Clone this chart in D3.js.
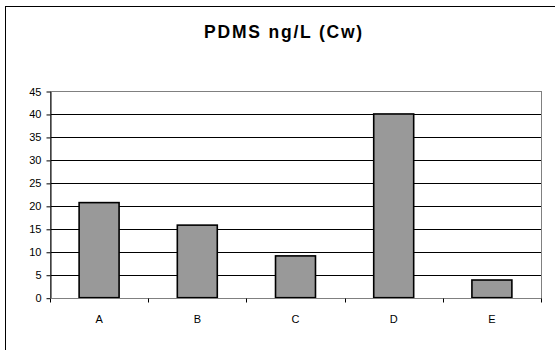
<!DOCTYPE html>
<html>
<head>
<meta charset="utf-8">
<script src="https://cdn.jsdelivr.net/npm/d3@7"></script>
<style>
  html, body { margin: 0; padding: 0; background: #fff; }
  svg { display: block; font-family: Arial, "Liberation Sans", sans-serif; }
</style>
</head>
<body>
<svg id="chart" width="555" height="350"></svg>
<script>
// PDMS concentrations in water per site
const categories = ["A", "B", "C", "D", "E"];
const values = [20.7, 15.8, 9.1, 40.0, 3.85];
const yTicks = [0, 5, 10, 15, 20, 25, 30, 35, 40, 45];
const title = "PDMS ng/L (Cw)";

const svg = d3.select("#chart");
const W = 555, H = 350;
const plot = { left: 50, right: 541, top: 91, bottom: 297.7 };

// outer chart frame (extends past the visible area on right and bottom)
svg.append("rect")
  .attr("x", 5.5).attr("y", 6.5)
  .attr("width", W + 10).attr("height", H + 10)
  .attr("fill", "#fff").attr("stroke", "#000").attr("stroke-width", 1);

const x = d3.scaleBand().domain(categories)
  .range([plot.left, plot.right]).paddingInner(0.593).paddingOuter(0.2965);
const xEdges = d3.scaleLinear().domain([0, categories.length])
  .range([plot.left, plot.right]);
const y = d3.scaleLinear().domain([0, 45]).range([plot.bottom, plot.top]);

// gridlines
svg.append("g").selectAll("line").data(yTicks.filter(d => d > 0 && d < 45)).join("line")
  .attr("x1", plot.left).attr("x2", plot.right)
  .attr("y1", d => Math.round(y(d)) + 0.5).attr("y2", d => Math.round(y(d)) + 0.5)
  .attr("stroke", "#000").attr("stroke-width", 1);

// plot area border (gray)
svg.append("rect")
  .attr("x", plot.left + 0.5).attr("y", Math.round(plot.top) + 0.5)
  .attr("width", plot.right - plot.left)
  .attr("height", Math.round(plot.bottom) - Math.round(plot.top))
  .attr("fill", "none").attr("stroke", "#808080").attr("stroke-width", 1);

// bars
svg.append("g").selectAll("rect").data(values).join("rect")
  .attr("x", (d, i) => x(categories[i]))
  .attr("y", d => y(d))
  .attr("width", x.bandwidth())
  .attr("height", d => y(0) - y(d))
  .attr("fill", "#999999").attr("stroke", "#000").attr("stroke-width", 1.6);

// y axis
const yAxis = d3.axisLeft(y).tickValues(yTicks).tickSize(4).tickSizeOuter(0).tickPadding(5);
const gy = svg.append("g").attr("transform", `translate(${plot.left + 0.5},0.5)`).call(yAxis);
gy.select(".domain").attr("stroke", "#000");
gy.selectAll(".tick line").attr("stroke", "#000");
gy.selectAll("text").attr("font-size", 11).attr("fill", "#000")
  .attr("font-family", "Arial, 'Liberation Sans', sans-serif");

// x axis with ticks at category boundaries
const gx = svg.append("g").attr("transform", `translate(0,${Math.round(plot.bottom) + 0.5})`);
gx.append("line").attr("x1", plot.left).attr("x2", plot.right)
  .attr("stroke", "#808080");
gx.selectAll("line.tk").data(d3.range(categories.length + 1)).join("line")
  .attr("class", "tk")
  .attr("x1", d => Math.round(xEdges(d)) + 0.5).attr("x2", d => Math.round(xEdges(d)) + 0.5)
  .attr("y1", 0).attr("y2", 4).attr("stroke", "#000");
gx.selectAll("text").data(categories).join("text")
  .attr("x", d => x(d) + x.bandwidth() / 2)
  .attr("y", 24)
  .attr("text-anchor", "middle")
  .attr("font-size", 11).attr("fill", "#000")
  .text(d => d);

// title
svg.append("text")
  .attr("x", 284).attr("y", 37.5)
  .attr("text-anchor", "middle")
  .attr("font-size", 17.5).attr("font-weight", "bold")
  .attr("letter-spacing", 1.8)
  .attr("fill", "#000")
  .text(title);
</script>
</body>
</html>
